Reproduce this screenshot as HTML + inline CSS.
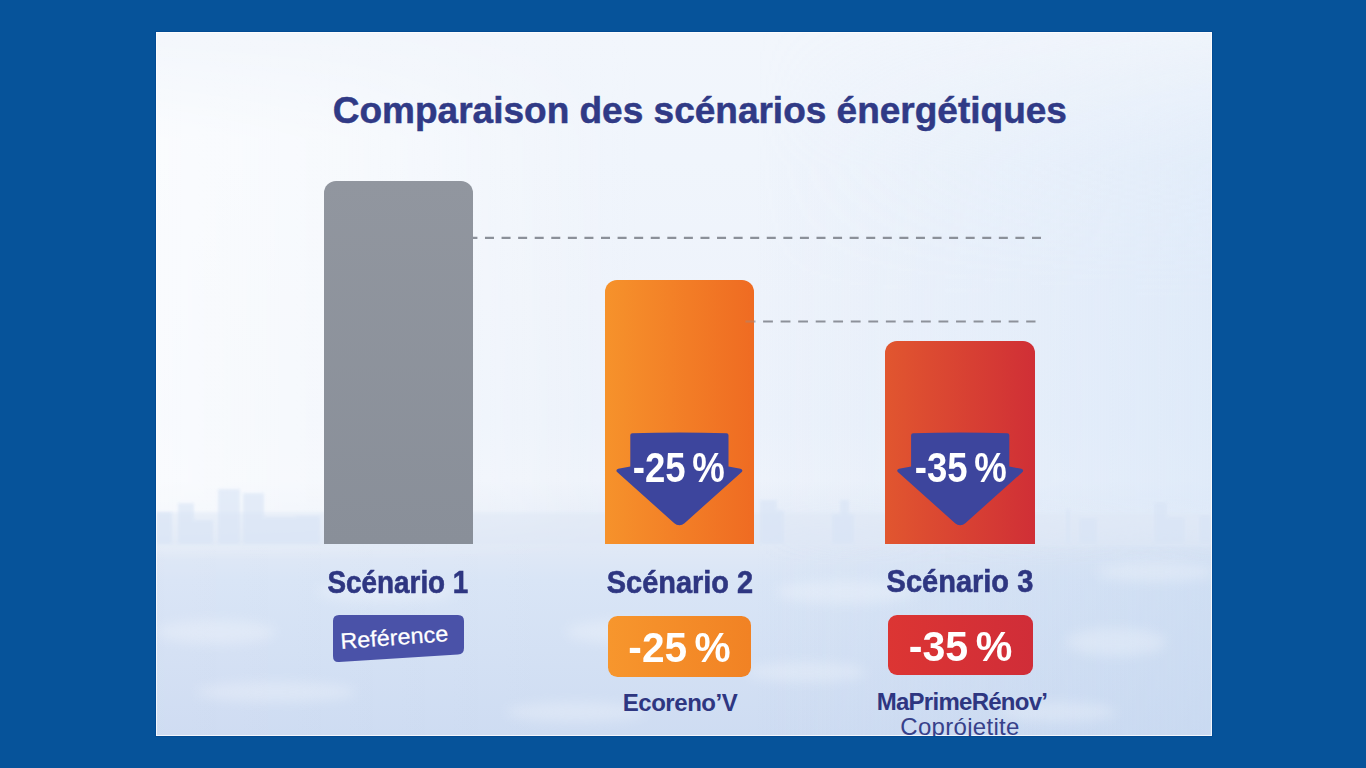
<!DOCTYPE html>
<html><head><meta charset="utf-8">
<style>
html,body{margin:0;padding:0;}
body{width:1366px;height:768px;background:#06539a;position:relative;overflow:hidden;font-family:"Liberation Sans",sans-serif;}
.ab{position:absolute;}
#photo{left:156px;top:32px;width:1056px;height:704px;overflow:hidden;}
.t{white-space:nowrap;color:#2e3681;font-weight:bold;line-height:1;}
.sk{-webkit-text-stroke:0.6px #2e3681;}
.c{text-align:center;}
.bar{border-radius:12px 12px 0 0;}
</style></head>
<body>
<svg id="photo" class="ab" width="1056" height="704" viewBox="0 0 1056 704">
 <defs>
  <linearGradient id="gv" x1="0" y1="0" x2="0" y2="704" gradientUnits="userSpaceOnUse">
   <stop offset="0.0000" stop-color="#f2f6fc"/>
   <stop offset="0.1818" stop-color="#f0f5fc"/>
   <stop offset="0.3807" stop-color="#eef3fb"/>
   <stop offset="0.5540" stop-color="#ecf2fb"/>
   <stop offset="0.6364" stop-color="#eef3fb"/>
   <stop offset="0.6932" stop-color="#e6edf8"/>
   <stop offset="0.7273" stop-color="#e1e9f6"/>
   <stop offset="0.7784" stop-color="#d9e5f6"/>
   <stop offset="1.0000" stop-color="#cedcf2"/>
  </linearGradient>
  <linearGradient id="ghU" x1="0" y1="0" x2="1056" y2="0" gradientUnits="userSpaceOnUse">
   <stop offset="0.0000" stop-color="#ffffff" stop-opacity="0.65"/>
   <stop offset="0.1894" stop-color="#ffffff" stop-opacity="0.45"/>
   <stop offset="0.4545" stop-color="#ffffff" stop-opacity="0"/>
  </linearGradient>
  <linearGradient id="ghB" x1="0" y1="0" x2="1056" y2="0" gradientUnits="userSpaceOnUse">
   <stop offset="0.5682" stop-color="#d6e5f8" stop-opacity="0"/>
   <stop offset="1.0000" stop-color="#d6e5f8" stop-opacity="0.6"/>
  </linearGradient>
  <linearGradient id="mB" x1="0" y1="0" x2="0" y2="1">
   <stop offset="0" stop-color="#fff" stop-opacity="0.15"/>
   <stop offset="0.25" stop-color="#fff" stop-opacity="0.85"/>
   <stop offset="0.5" stop-color="#fff" stop-opacity="1"/>
   <stop offset="0.88" stop-color="#fff" stop-opacity="1"/>
   <stop offset="1" stop-color="#fff" stop-opacity="0"/>
  </linearGradient>
  <mask id="maskB"><rect width="1056" height="530" fill="url(#mB)"/></mask>
  <linearGradient id="ghL" x1="0" y1="0" x2="1056" y2="0" gradientUnits="userSpaceOnUse">
   <stop offset="0.0000" stop-color="#ffffff" stop-opacity="0.03"/>
   <stop offset="0.3788" stop-color="#ffffff" stop-opacity="0"/>
   <stop offset="0.5682" stop-color="#c4d7f0" stop-opacity="0"/>
   <stop offset="1.0000" stop-color="#c4d7f0" stop-opacity="0.45"/>
  </linearGradient>
  <linearGradient id="mU" x1="0" y1="0" x2="0" y2="1">
   <stop offset="0" stop-color="#fff" stop-opacity="0.2"/>
   <stop offset="0.2" stop-color="#fff" stop-opacity="1"/>
   <stop offset="0.9" stop-color="#fff" stop-opacity="1"/>
   <stop offset="1" stop-color="#fff" stop-opacity="0"/>
  </linearGradient>
  <linearGradient id="mL" x1="0" y1="0" x2="0" y2="1">
   <stop offset="0" stop-color="#fff" stop-opacity="0"/>
   <stop offset="0.2" stop-color="#fff" stop-opacity="1"/>
   <stop offset="1" stop-color="#fff" stop-opacity="1"/>
  </linearGradient>
  <mask id="maskL"><rect y="490" width="1056" height="214" fill="url(#mL)"/></mask>
  <mask id="maskU"><rect width="1056" height="530" fill="url(#mU)"/></mask>
  <filter id="bl" x="-10%" y="-10%" width="120%" height="120%"><feGaussianBlur stdDeviation="1.8"/></filter>
  <filter id="bl6" x="-30%" y="-30%" width="160%" height="160%"><feGaussianBlur stdDeviation="6"/></filter>
 </defs>
 <rect width="1056" height="704" fill="url(#gv)"/>
 <rect width="1056" height="530" fill="url(#ghU)" mask="url(#maskU)"/>
 <rect width="1056" height="530" fill="url(#ghB)" mask="url(#maskB)"/>
 <rect y="490" width="1056" height="214" fill="url(#ghL)" mask="url(#maskL)"/>
 <rect x="0" y="480" width="1056" height="34" fill="#dfe8f6" opacity="0.5" filter="url(#bl)"/>
 <g fill="#d8e4f6" opacity="0.6" filter="url(#bl)">
  <rect x="0" y="480" width="16" height="32"/>
  <rect x="22" y="471" width="16" height="41"/>
  <rect x="25" y="488" width="32" height="24"/>
  <rect x="62" y="457" width="22" height="55"/>
  <rect x="87" y="461" width="21" height="51"/>
  <rect x="108" y="485" width="32" height="27"/>
  <rect x="140" y="484" width="24" height="28"/>
  <rect x="604" y="468" width="17" height="44"/>
  <rect x="621" y="478" width="7" height="34"/>
  <rect x="684" y="468" width="9" height="44"/>
  <rect x="676" y="482" width="22" height="30"/>
  <rect x="998" y="470" width="13" height="42"/>
  <rect x="923" y="486" width="18" height="26"/>
  <rect x="1011" y="485" width="18" height="27"/>
  <rect x="1043" y="483" width="13" height="29"/>
  <rect x="910" y="477" width="4" height="35"/>
 </g>
 <g fill="#ffffff" filter="url(#bl6)" opacity="0.25">
  <ellipse cx="60" cy="600" rx="60" ry="12"/>
  <ellipse cx="230" cy="560" rx="70" ry="10"/>
  <ellipse cx="120" cy="660" rx="80" ry="10"/>
  <ellipse cx="470" cy="600" rx="60" ry="12"/>
  <ellipse cx="420" cy="680" rx="70" ry="10"/>
  <ellipse cx="690" cy="560" rx="70" ry="12"/>
  <ellipse cx="650" cy="640" rx="60" ry="10"/>
  <ellipse cx="960" cy="610" rx="50" ry="14"/>
  <ellipse cx="1000" cy="540" rx="60" ry="10"/>
  <ellipse cx="900" cy="680" rx="60" ry="10"/>
 </g>
</svg>

<div class="ab" style="left:156px;top:32px;width:1056px;height:704px;box-shadow:inset 0 0 0 1px rgba(255,255,255,0.75),0 0 0 1px #024b94;"></div>
<div class="ab t" id="title" style="left:332.8px;top:91.7px;font-size:37px;color:#303a86;-webkit-text-stroke:0.5px #303a86;">Comparaison des scénarios énergétiques</div>

<div class="ab bar" style="left:324px;top:181px;width:149px;height:363px;background:linear-gradient(180deg,#91969f,#898f99);"></div>
<div class="ab bar" style="left:605px;top:280px;width:149px;height:264px;background:linear-gradient(90deg,#f6922b,#ef6b22);"></div>
<div class="ab bar" style="left:885px;top:341px;width:150px;height:203px;background:linear-gradient(90deg,#e1562f,#d02f36);"></div>

<svg class="ab" style="left:0;top:0" width="1366" height="768">
 <line x1="473" y1="237.9" x2="1041.5" y2="237.9" stroke="#8b9099" stroke-width="2.2" stroke-dasharray="9 7.576" stroke-dashoffset="4.6"/>
 <line x1="754.3" y1="321.5" x2="1035.5" y2="321.5" stroke="#8d919a" stroke-width="2.2" stroke-dasharray="9.8 7.74" stroke-dashoffset="8.74"/>
 <line x1="745.5" y1="321.5" x2="754.3" y2="321.5" stroke="#8d919a" stroke-width="2.2" opacity="0.35"/>
 <g fill="#3d459d">
  <path d="M632.3 433.2 Q679.4 431.8 726.5 433.2 Q728.5 433.3 728.5 435.2 L728.5 466.5 L740.5 468.8 Q743.2 469.5 742 471.8 L684.5 523.2 A7.7 7.7 0 0 1 674.3 523.2 L616.8 471.8 Q615.6 469.5 618.3 468.8 L630.3 466.5 L630.3 435.2 Q630.3 433.3 632.3 433.2 Z"/>
  <path transform="translate(280.8 0)" d="M632.3 433.2 Q679.4 431.8 726.5 433.2 Q728.5 433.3 728.5 435.2 L728.5 466.5 L740.5 468.8 Q743.2 469.5 742 471.8 L684.5 523.2 A7.7 7.7 0 0 1 674.3 523.2 L616.8 471.8 Q615.6 469.5 618.3 468.8 L630.3 466.5 L630.3 435.2 Q630.3 433.3 632.3 433.2 Z"/>
 </g>
</svg>

<div class="ab t c" style="left:578.5px;width:200px;top:446.5px;font-size:42px;color:#fff;"><span style="display:inline-block;transform:scaleX(0.87)">-25<span style="margin-left:-4px"> </span>%</span></div>
<div class="ab t c" style="left:861px;width:200px;top:446.5px;font-size:42px;color:#fff;"><span style="display:inline-block;transform:scaleX(0.87)">-35<span style="margin-left:-4px"> </span>%</span></div>

<div class="ab t c" style="left:298px;width:200px;top:566px;font-size:32px;"><span style="display:inline-block;transform:scaleX(0.87)" class="sk">Scénario 1</span></div>
<div class="ab t c" style="left:579.7px;width:200px;top:566px;font-size:32px;"><span style="display:inline-block;transform:scaleX(0.904)" class="sk">Scénario 2</span></div>
<div class="ab t c" style="left:860px;width:200px;top:565.3px;font-size:32px;"><span style="display:inline-block;transform:scaleX(0.906)" class="sk">Scénario 3</span></div>

<div class="ab" style="left:607.8px;top:615.5px;width:143.5px;height:61px;border-radius:9.5px;background:linear-gradient(90deg,#f7962d,#f18224);"></div>
<div class="ab" style="left:888.1px;top:614.8px;width:145px;height:60.2px;border-radius:9px;background:linear-gradient(90deg,#dc3533,#d02d38);"></div>
<div class="ab t c" style="left:579.55px;width:200px;top:626.5px;font-size:42.5px;color:#fff;"><span style="display:inline-block;transform:scaleX(0.956)">-25<span style="margin-left:-4px"> </span>%</span></div>
<div class="ab t c" style="left:860.55px;width:200px;top:625.7px;font-size:42.5px;color:#fff;"><span style="display:inline-block;transform:scaleX(0.968)">-35<span style="margin-left:-4px"> </span>%</span></div>

<svg class="ab" style="left:0;top:0" width="1366" height="768">
 <path d="M339 615 L458 615 Q464 615 464 621 L464 648 Q464 654 458 654.5 L339 662 Q333 662.5 333 656 L333 621 Q333 615 339 615 Z" fill="#4a52a8"/>
</svg>
<div class="ab" style="left:340.6px;top:631.1px;font-size:22.3px;line-height:1;color:#fff;transform:rotate(-4.2deg) scaleX(1.05);transform-origin:0 18.9px;white-space:nowrap;-webkit-text-stroke:0.25px #fff;">Reférence</div>

<div class="ab t c" style="left:580px;width:200px;top:691.1px;font-size:24px;letter-spacing:-0.45px;">Ecoreno’V</div>
<div class="ab t c" style="left:862px;width:200px;top:690.1px;font-size:24px;letter-spacing:-0.73px;">MaPrimeRénov’</div>
<div class="ab t c" style="left:860px;width:200px;top:714.5px;font-size:24px;font-weight:normal;color:#37418a;letter-spacing:0.3px;">Coprójetite</div>

<div class="ab" style="left:155px;top:736px;width:1058px;height:32px;background:#06539a;border-top:1px solid #024b94;box-sizing:border-box;"></div>
</body></html>
